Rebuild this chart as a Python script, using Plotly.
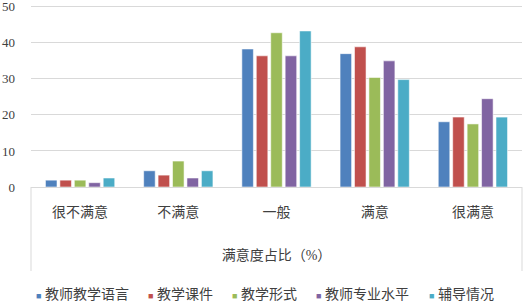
import plotly.graph_objects as go

categories = ["很不满意", "不满意", "一般", "满意", "很满意"]
series_names = ["教师教学语言", "教学课件", "教学形式", "教师专业水平", "辅导情况"]
v_yuyan = [1.9, 4.5, 38.3, 37.0, 18.1]
v_kejian = [1.9, 3.3, 36.4, 38.9, 19.4]
v_xingshi = [1.9, 7.2, 42.8, 30.4, 17.5]
v_shuiping = [1.2, 2.5, 36.4, 35.0, 24.5]
v_fudao = [2.5, 4.5, 43.3, 29.8, 19.4]
series_values = [v_yuyan, v_kejian, v_xingshi, v_shuiping, v_fudao]
y_tickvals = [0, 10, 20, 30, 40, 50]
x_title = "满意度占比（%）"

colors = ["#4F81BD", "#C0504D", "#9BBB59", "#8064A2", "#4BACC6"]
legend_ids = ["legend", "legend2", "legend3", "legend4", "legend5"]
legend_left_px = [34, 146, 230, 314, 427]  # left edge of the coloured square, px

W, H = 530, 305
ml, mr, mt, mb = 31, 8, 5, 118
pw = W - ml - mr
ph = H - mt - mb
ymax = 50.5

cjk = "Liberation Serif, Noto Sans CJK SC"
txt_col = "#404040"

fig = go.Figure()
for name, vals, col, lg in zip(series_names, series_values, colors, legend_ids):
    fig.add_trace(go.Bar(
        x=categories, y=vals, name=name, showlegend=False,
        marker=dict(color=col, line=dict(color="rgba(255,255,255,0.55)", width=1)),
    ))
    label = f"<span style='font-size:9px;color:{col}'>■</span> {name}"
    fig.add_trace(go.Scatter(
        x=[None], y=[None], mode="markers", name=label, legend=lg,
        marker=dict(symbol="square", size=1, color="rgba(0,0,0,0)"),
    ))

legend_y = -(294 - (H - mb)) / ph
layout_legends = {}
for lg, px in zip(legend_ids, legend_left_px):
    layout_legends[lg] = dict(
        x=(px - 38 - ml) / pw, xanchor="left", xref="paper",
        y=legend_y, yanchor="middle", yref="paper",
        orientation="h", bgcolor="rgba(0,0,0,0)", borderwidth=0,
        font=dict(family=cjk, size=14, color=txt_col),
        itemwidth=30,
    )

fig.update_layout(
    width=W, height=H,
    margin=dict(l=ml, r=mr, t=mt, b=mb, autoexpand=False),
    paper_bgcolor="white", plot_bgcolor="white",
    barmode="group", bargap=0.265, bargroupgap=0.2,
    font=dict(family=cjk, size=14, color=txt_col),
    **layout_legends,
)
fig.update_yaxes(
    range=[0, ymax], tickvals=y_tickvals,
    showgrid=True, gridcolor="#D9D9D9", gridwidth=1,
    zeroline=False, showline=False, ticks="",
    tickfont=dict(family="Liberation Serif", size=13, color=txt_col),
    ticklabelstandoff=15, ticklabeloverflow="allow",
)
fig.update_xaxes(
    showline=True, linecolor="#D9D9D9", linewidth=1, ticks="",
    tickfont=dict(family=cjk, size=14, color=txt_col),
    ticklabelstandoff=12,
    title=dict(text=x_title, standoff=31, font=dict(family=cjk, size=14, color=txt_col)),
)
bottom = -(271 - (H - mb)) / ph
for xp in (0, 1):
    fig.add_shape(type="line", xref="paper", yref="paper", x0=xp, x1=xp, y0=0, y1=bottom,
                  line=dict(color="#D9D9D9", width=1), layer="below")

fig.write_html("out.html", config={"displayModeBar": False},
               post_script="document.body.style.margin='0';")
